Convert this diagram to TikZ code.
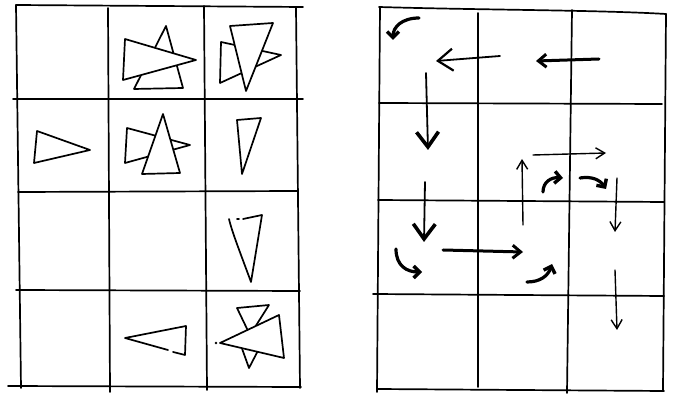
\documentclass[tikz,border=0pt]{standalone}
\usepackage{tikz}
\usetikzlibrary{arrows.meta}

\begin{document}
\begin{tikzpicture}[x=1pt,y=-1pt,
  pen/.style={line width=1.7pt,line cap=round,line join=round},
  tri/.style={pen,fill=white},
  bigarr/.style={line width=1.8pt,line cap=round,-{Straight Barb[length=15pt,width=22pt,line width=2.2pt]}},
  downarr/.style={line width=1.8pt,line cap=round,-{Straight Barb[length=15pt,width=22pt,line width=3.6pt]}},
  smallarr/.style={line width=1.4pt,line cap=round,-{Straight Barb[length=9pt,width=11pt]}},
  fatarr/.style={line width=3pt,line cap=round,-{Straight Barb[length=8pt,width=13pt]}},
  curlarr/.style={line width=3.2pt,line cap=round,-{Straight Barb[length=6pt,width=12pt,line width=3.4pt]}}]
\useasboundingbox (0,0) rectangle (678,403);
% left grid
\draw[pen] (16,5) -- (303,7);
\draw[pen] (13,99) -- (303,99);
\draw[pen] (18,192) -- (298,191);
\draw[pen] (16,290) -- (300,291);
\draw[pen] (8,386) -- (301,387);
\draw[pen] (16,5) -- (21,388);
\draw[pen] (108,8) -- (110,392);
\draw[pen] (204,6) -- (207,390);
\draw[pen] (296,8) -- (300,388);
% left grid: triangles
\draw[tri] (166,26) -- (183,88) -- (134,89) -- cycle;
\draw[tri] (125,39) -- (196,60) -- (123,80) -- cycle;
\draw[tri] (221,42) -- (281,55) -- (220,83) -- cycle;
\draw[tri] (230,26) -- (273,23) -- (246,91) -- cycle;
\draw[tri] (37,131) -- (90,150) -- (34,163) -- cycle;
\draw[tri] (127,128) -- (190,145) -- (125,163) -- cycle;
\draw[tri] (163,114) -- (180,173) -- (142,174) -- cycle;
\draw[tri] (237,120) -- (261,118) -- (242,174) -- cycle;
\draw[pen] (243,219) -- (262,215) -- (251,282) .. controls (240,252) and (232,232) .. (229,219);
\draw[pen] (237,219) -- (239,219);
\draw[pen] (168,350) -- (125,338) -- (186,326) -- (185,355) -- (173,352);
\draw[tri] (237,308) -- (269,305) -- (250,335) -- cycle;
\draw[tri] (240,343) -- (262,343) -- (249,368) -- cycle;
\draw[tri] (220,343) -- (279,315) -- (284,358) -- cycle;
\fill (216,343) circle (1.3);
% right grid
\draw[pen] (379,7) .. controls (480,10) and (600,10) .. (666,14);
\draw[pen] (379,103) -- (662,104);
\draw[pen] (378,200) -- (664,202);
\draw[pen] (373,294) -- (664,296);
\draw[pen] (377,389) -- (664,391);
\draw[pen] (380,7) -- (377,392);
\draw[pen] (478,13) -- (478,387);
\draw[pen] (572,10) -- (567,393);
\draw[pen] (666,14) -- (663,390);
% right grid: arrows
\draw[curlarr] (419,18) .. controls (402,18) and (393,27) .. (393,40);
\draw[bigarr] (500,56) -- (436,61);
\draw[fatarr] (599,59) -- (536,61);
\draw[downarr] (426,73) -- (428,150);
\draw[downarr] (425,182) -- (424,242);
\draw[curlarr] (396,249) .. controls (396,266) and (407,272) .. (422,272);
\draw[fatarr] (443,250) -- (523,252);
\draw[smallarr] (523,225) -- (522,159);
\draw[smallarr] (533,155) -- (606,153);
\draw[curlarr] (543,192) .. controls (543,182) and (551,177) .. (563,178);
\draw[curlarr] (580,178) .. controls (592,176) and (600,180) .. (606,189);
\draw[curlarr] (527,282) .. controls (540,282) and (548,276) .. (552,264);
\draw[smallarr] (617,178) -- (615,232);
\draw[smallarr] (615,270) -- (617,330);
\end{tikzpicture}
\end{document}
